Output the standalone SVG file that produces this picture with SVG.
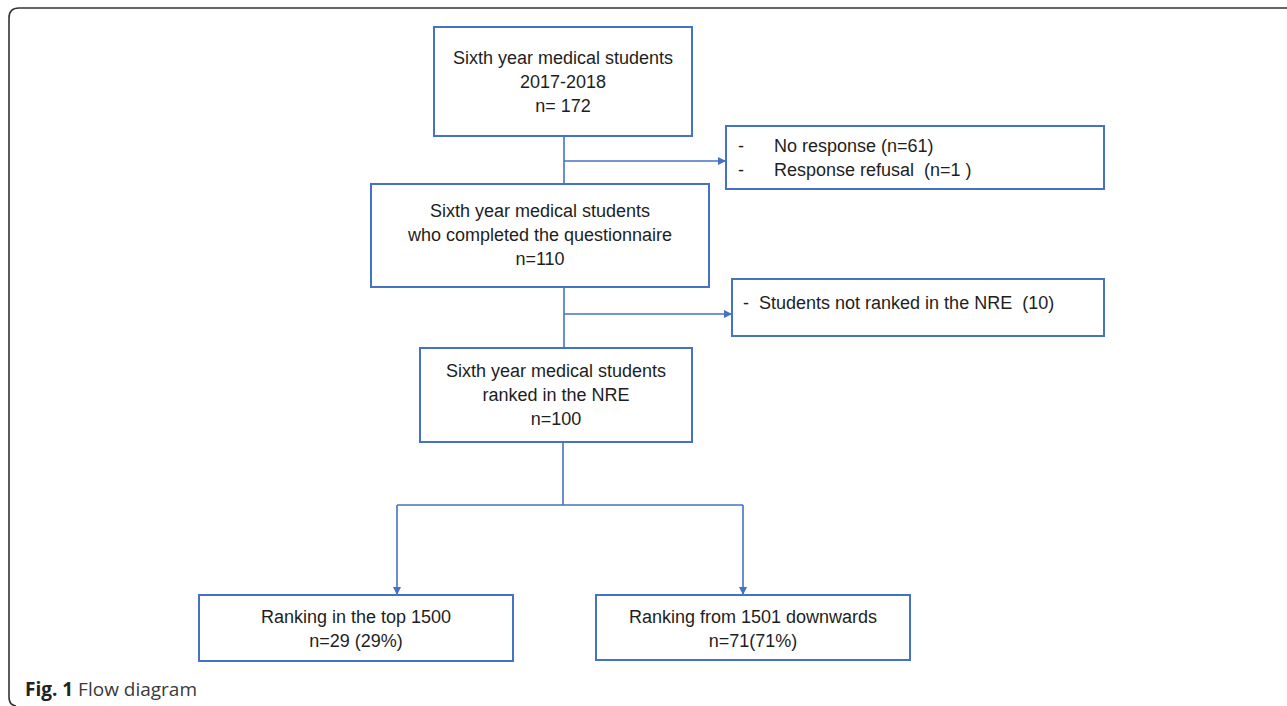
<svg xmlns="http://www.w3.org/2000/svg" width="1287" height="706" viewBox="0 0 1287 706">
<style>
  .box { fill: #ffffff; stroke: #4472C4; stroke-width: 2; }
  .t { font-family: "Liberation Sans", Arial, sans-serif; font-size: 18px; fill: #1e1e1e; white-space: pre; }
  .c { text-anchor: middle; }
  .conn { fill: none; stroke: #4472C4; stroke-width: 1.6; }
  .frame { fill: none; stroke: #333333; stroke-width: 1.6; }
  .cap { font-family: "Open Sans", "Noto Sans", sans-serif; font-size: 19px; fill: #3a3a3a; }
</style>
<defs>
  <marker id="arr" viewBox="0 0 10 10" refX="10" refY="5" markerWidth="8" markerHeight="8" markerUnits="userSpaceOnUse" orient="auto">
    <path d="M0,0 L10,5 L0,10 z" fill="#4472C4"/>
  </marker>
</defs>
<rect x="0" y="0" width="1287" height="706" fill="#ffffff"/>
<path class="frame" d="M16,706 Q9,705 9,697 L9,18 Q9,8 19,8 L1287,8"/>

<g id="connectors">
  <line class="conn" x1="564" y1="136" x2="564" y2="184"/>
  <line class="conn" x1="564" y1="161" x2="726" y2="161" marker-end="url(#arr)"/>
  <line class="conn" x1="564" y1="287" x2="564" y2="348"/>
  <line class="conn" x1="564" y1="314" x2="732" y2="314" marker-end="url(#arr)"/>
  <line class="conn" x1="563" y1="442" x2="563" y2="505"/>
  <line class="conn" x1="397" y1="505" x2="743" y2="505"/>
  <line class="conn" x1="397" y1="505" x2="397" y2="595" marker-end="url(#arr)"/>
  <line class="conn" x1="743" y1="505" x2="743" y2="595" marker-end="url(#arr)"/>
</g>

<g id="node-start">
  <rect class="box" x="434" y="27" width="258" height="109"/>
  <text class="t c" x="563" y="64">Sixth year medical students</text>
  <text class="t c" x="563" y="88">2017-2018</text>
  <text class="t c" x="563" y="112">n= 172</text>
</g>

<g id="node-excluded1">
  <rect class="box" x="726" y="126" width="378" height="63"/>
  <text class="t" x="738" y="152">-</text>
  <text class="t" x="774" y="152">No response (n=61)</text>
  <text class="t" x="738" y="176">-</text>
  <text class="t" x="774" y="176">Response refusal  (n=1 )</text>
</g>

<g id="node-completed">
  <rect class="box" x="371" y="184" width="338" height="103"/>
  <text class="t c" x="540" y="217">Sixth year medical students</text>
  <text class="t c" x="540" y="241">who completed the questionnaire</text>
  <text class="t c" x="540" y="265">n=110</text>
</g>

<g id="node-excluded2">
  <rect class="box" x="732" y="279" width="372" height="57"/>
  <text class="t" x="743" y="309">-  Students not ranked in the NRE  (10)</text>
</g>

<g id="node-ranked">
  <rect class="box" x="420" y="348" width="272" height="94"/>
  <text class="t c" x="556" y="377">Sixth year medical students</text>
  <text class="t c" x="556" y="401">ranked in the NRE</text>
  <text class="t c" x="556" y="425">n=100</text>
</g>

<g id="node-top">
  <rect class="box" x="199" y="595" width="314" height="66"/>
  <text class="t c" x="356" y="623">Ranking in the top 1500</text>
  <text class="t c" x="356" y="647">n=29 (29%)</text>
</g>

<g id="node-bottom">
  <rect class="box" x="596" y="595" width="314" height="65"/>
  <text class="t c" x="753" y="623">Ranking from 1501 downwards</text>
  <text class="t c" x="753" y="647">n=71(71%)</text>
</g>

<text class="cap" x="25" y="696"><tspan font-weight="bold" fill="#222222">Fig. 1</tspan> Flow diagram</text>
</svg>
